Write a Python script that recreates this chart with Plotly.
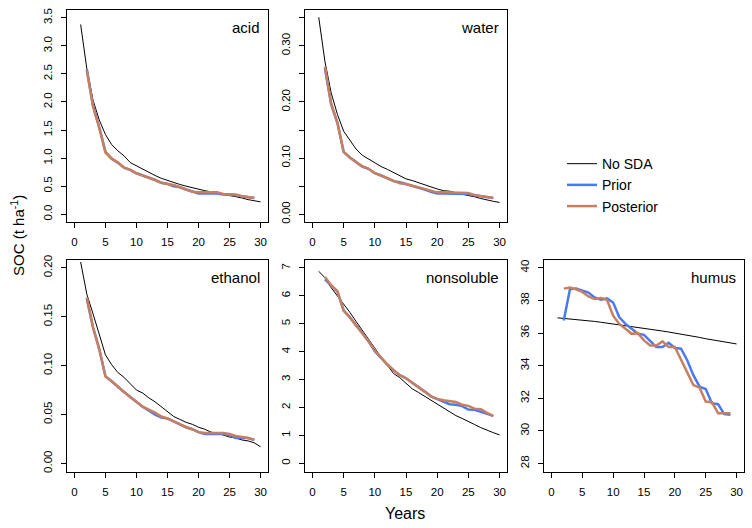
import plotly.graph_objects as go

years_nosda = list(range(1, 31))
years_sda = list(range(2, 30))

# ---- acid ----
acid_nosda = [3.38, 2.59, 2.03, 1.68, 1.42, 1.24, 1.13, 1.04, 0.92, 0.86, 0.80, 0.74, 0.69, 0.64, 0.60,
              0.57, 0.53, 0.50, 0.47, 0.45, 0.42, 0.40, 0.38, 0.36, 0.33, 0.31, 0.29, 0.26, 0.24, 0.22]
acid_post = [2.56, 1.92, 1.54, 1.10, 0.99, 0.92, 0.83, 0.79, 0.73, 0.69, 0.66, 0.61, 0.56, 0.54, 0.52,
             0.48, 0.44, 0.40, 0.39, 0.39, 0.39, 0.39, 0.36, 0.36, 0.35, 0.32, 0.30, 0.29]
acid_prior = [2.58, 1.93, 1.55, 1.11, 0.99, 0.92, 0.83, 0.79, 0.73, 0.69, 0.66, 0.61, 0.56, 0.54, 0.50,
              0.48, 0.44, 0.40, 0.37, 0.37, 0.37, 0.37, 0.35, 0.35, 0.34, 0.32, 0.30, 0.29]

# ---- water ----
water_nosda = [0.351, 0.272, 0.216, 0.178, 0.148, 0.131, 0.116, 0.105, 0.098, 0.091, 0.085, 0.080, 0.074,
               0.068, 0.063, 0.060, 0.056, 0.052, 0.048, 0.045, 0.042, 0.041, 0.038, 0.036, 0.034, 0.031,
               0.028, 0.025, 0.023, 0.021]
water_post = [0.263, 0.196, 0.163, 0.111, 0.101, 0.093, 0.085, 0.081, 0.073, 0.069, 0.064, 0.059, 0.055,
              0.054, 0.051, 0.048, 0.044, 0.041, 0.039, 0.039, 0.039, 0.039, 0.038, 0.038, 0.034, 0.032,
              0.030, 0.029]
water_prior = [0.260, 0.196, 0.163, 0.111, 0.101, 0.093, 0.085, 0.081, 0.073, 0.069, 0.064, 0.059, 0.057,
               0.054, 0.051, 0.048, 0.044, 0.040, 0.037, 0.037, 0.037, 0.037, 0.036, 0.036, 0.034, 0.032,
               0.030, 0.029]

# ---- ethanol ----
ethanol_nosda = [0.206, 0.173, 0.153, 0.133, 0.111, 0.101, 0.093, 0.088, 0.081, 0.075, 0.072, 0.067,
                 0.063, 0.058, 0.053, 0.048, 0.045, 0.042, 0.040, 0.037, 0.035, 0.032, 0.031, 0.029,
                 0.027, 0.026, 0.024, 0.023, 0.021, 0.017]
ethanol_post = [0.170, 0.139, 0.117, 0.089, 0.084, 0.078, 0.073, 0.068, 0.063, 0.058, 0.055, 0.052, 0.048,
                0.046, 0.043, 0.040, 0.037, 0.035, 0.032, 0.031, 0.031, 0.031, 0.031, 0.030, 0.028, 0.027,
                0.026, 0.024]
ethanol_prior = [0.168, 0.139, 0.117, 0.089, 0.084, 0.078, 0.073, 0.068, 0.063, 0.058, 0.054, 0.050, 0.047,
                 0.046, 0.043, 0.040, 0.037, 0.035, 0.032, 0.030, 0.030, 0.030, 0.030, 0.029, 0.026, 0.026,
                 0.026, 0.024]

# ---- nonsoluble ----
nonsol_nosda = [6.88, 6.65, 6.29, 6.00, 5.70, 5.41, 5.08, 4.76, 4.46, 4.11, 3.81, 3.52, 3.22, 3.07, 2.87,
                2.67, 2.54, 2.40, 2.26, 2.10, 1.96, 1.84, 1.71, 1.61, 1.51, 1.39, 1.28, 1.18, 1.10, 1.02]
nonsol_post = [6.68, 6.38, 6.17, 5.47, 5.23, 4.94, 4.68, 4.37, 4.05, 3.78, 3.54, 3.34, 3.16, 3.05, 2.90,
               2.75, 2.57, 2.40, 2.31, 2.26, 2.22, 2.20, 2.10, 2.06, 1.96, 1.94, 1.81, 1.69]
nonsol_prior = [6.59, 6.36, 6.15, 5.47, 5.23, 4.94, 4.68, 4.37, 4.02, 3.78, 3.54, 3.34, 3.16, 3.05, 2.90,
                2.75, 2.57, 2.40, 2.31, 2.20, 2.12, 2.10, 2.05, 1.93, 1.92, 1.85, 1.78, 1.70]

# ---- humus ----
humus_nosda = [36.93, 36.90, 36.87, 36.83, 36.80, 36.76, 36.71, 36.66, 36.61, 36.56, 36.51, 36.46, 36.41,
               36.35, 36.30, 36.24, 36.18, 36.12, 36.06, 36.00, 35.94, 35.87, 35.80, 35.73, 35.65, 35.59,
               35.52, 35.46, 35.40, 35.33]
humus_post = [38.72, 38.79, 38.68, 38.52, 38.24, 38.08, 38.14, 38.04, 37.06, 36.56, 36.26, 35.95, 35.99,
              35.55, 35.24, 35.24, 35.49, 35.14, 35.14, 34.33, 33.52, 32.81, 32.65, 31.80, 31.76, 31.09,
              31.09, 31.09]
humus_prior = [36.76, 38.68, 38.72, 38.62, 38.48, 38.18, 38.04, 38.12, 37.87, 36.96, 36.56, 36.26, 35.95,
               35.89, 35.49, 35.14, 35.14, 35.40, 35.08, 35.04, 34.33, 33.42, 32.71, 32.57, 31.70, 31.64,
               31.03, 30.99]

panel_names = ["acid", "water", "ethanol", "nonsoluble", "humus"]
x_ticks = [0, 5, 10, 15, 20, 25, 30]
acid_ticks = [0.0, 0.5, 1.0, 1.5, 2.0, 2.5, 3.0, 3.5]
acid_labels = ["0.0", "0.5", "1.0", "1.5", "2.0", "2.5", "3.0", "3.5"]
water_ticks = [0.0, 0.10, 0.20, 0.30]
water_labels = ["0.00", "0.10", "0.20", "0.30"]
water_minor_step = 0.05
ethanol_ticks = [0.0, 0.05, 0.10, 0.15, 0.20]
ethanol_labels = ["0.00", "0.05", "0.10", "0.15", "0.20"]
nonsol_ticks = [0, 1, 2, 3, 4, 5, 6, 7]
nonsol_labels = ["0", "1", "2", "3", "4", "5", "6", "7"]
humus_ticks = [28, 30, 32, 34, 36, 38, 40]
humus_labels = ["28", "30", "32", "34", "36", "38", "40"]

NOSDA_C = "black"
PRIOR_C = "#4a7af2"
POST_C = "#c87f5f"
FONT = "Liberation Sans, Arial, sans-serif"

W, H = 752, 528
def px_x(a, b):
    return [a / W, b / W]
def px_y(top, bottom):
    return [1 - bottom / H, 1 - top / H]

panels = [
    ("acid", acid_nosda, acid_prior, acid_post, px_x(67, 268), px_y(5, 220), [-0.14, 3.64], acid_ticks, acid_labels),
    ("water", water_nosda, water_prior, water_post, px_x(305, 507), px_y(5, 220), [-0.014, 0.364], water_ticks, water_labels),
    ("ethanol", ethanol_nosda, ethanol_prior, ethanol_post, px_x(67, 268), px_y(258, 473), [-0.0085, 0.2085], ethanol_ticks, ethanol_labels),
    ("nonsoluble", nonsol_nosda, nonsol_prior, nonsol_post, px_x(305, 507), px_y(258, 473), [-0.3, 7.3], nonsol_ticks, nonsol_labels),
    ("humus", humus_nosda, humus_prior, humus_post, px_x(544, 744), px_y(258, 473), [27.5, 40.5], humus_ticks, humus_labels),
]

fig = go.Figure()
layout = {}
annotations = []
for i, (name, nos, pri, pos, xd, yd, yr, yt, yl) in enumerate(panels):
    n = i + 1
    xa = "x" if n == 1 else f"x{n}"
    ya = "y" if n == 1 else f"y{n}"
    first = (i == 0)
    fig.add_trace(go.Scatter(x=years_nosda, y=nos, mode="lines", name="No SDA",
                             line=dict(color=NOSDA_C, width=1), xaxis=xa, yaxis=ya,
                             showlegend=first, legendrank=1))
    fig.add_trace(go.Scatter(x=years_sda, y=pri, mode="lines", name="Prior",
                             line=dict(color=PRIOR_C, width=2.5), xaxis=xa, yaxis=ya,
                             showlegend=first, legendrank=2))
    fig.add_trace(go.Scatter(x=years_sda, y=pos, mode="lines", name="Posterior",
                             line=dict(color=POST_C, width=2.5), xaxis=xa, yaxis=ya,
                             showlegend=first, legendrank=3))
    common = dict(showline=True, mirror=True, linecolor="black", linewidth=1,
                  ticks="outside", ticklen=5, tickcolor="black", tickwidth=1,
                  showgrid=False, zeroline=False, ticklabelstandoff=4,
                  tickfont=dict(family=FONT, size=11.5, color="black"))
    layout["xaxis" if n == 1 else f"xaxis{n}"] = dict(
        domain=xd, range=[-1.2, 31.2], tickmode="array", tickvals=x_ticks,
        anchor=ya, **common)
    yax = dict(domain=yd, range=yr, tickmode="array", tickvals=yt, ticktext=yl,
               tickangle=-90, anchor=xa, **common)
    if name == "water":
        yax["minor"] = dict(dtick=water_minor_step, tick0=0, ticks="outside",
                            ticklen=5, tickcolor="black", tickwidth=1, showgrid=False)
    layout["yaxis" if n == 1 else f"yaxis{n}"] = yax
    annotations.append(dict(text=name, xref="paper", yref="paper",
                            x=xd[1] - 6 / W, y=yd[1] - 18 / H,
                            xanchor="right", yanchor="middle", showarrow=False,
                            font=dict(family=FONT, size=15, color="black")))

annotations.append(dict(text="SOC (t ha<sup>-1</sup>)", xref="paper", yref="paper",
                        x=18 / W, y=1 - 234 / H, textangle=-90, showarrow=False,
                        xanchor="center", yanchor="middle",
                        font=dict(family=FONT, size=15, color="black")))
annotations.append(dict(text="Years", xref="paper", yref="paper",
                        x=405 / W, y=1 - 515 / H, showarrow=False,
                        xanchor="center", yanchor="middle",
                        font=dict(family=FONT, size=16, color="black")))

fig.update_layout(
    **layout,
    annotations=annotations,
    width=W, height=H,
    margin=dict(l=0, r=0, t=0, b=0),
    paper_bgcolor="white", plot_bgcolor="white",
    showlegend=True,
    legend=dict(x=562 / W, y=1 - 145 / H, xanchor="left", yanchor="top",
                font=dict(family=FONT, size=14, color="black"),
                bgcolor="rgba(0,0,0,0)", tracegroupgap=0, itemwidth=30),
)

fig.write_html("out.html", config={"displayModeBar": False},
               post_script="document.body.style.margin='0';document.body.style.overflow='hidden';")
